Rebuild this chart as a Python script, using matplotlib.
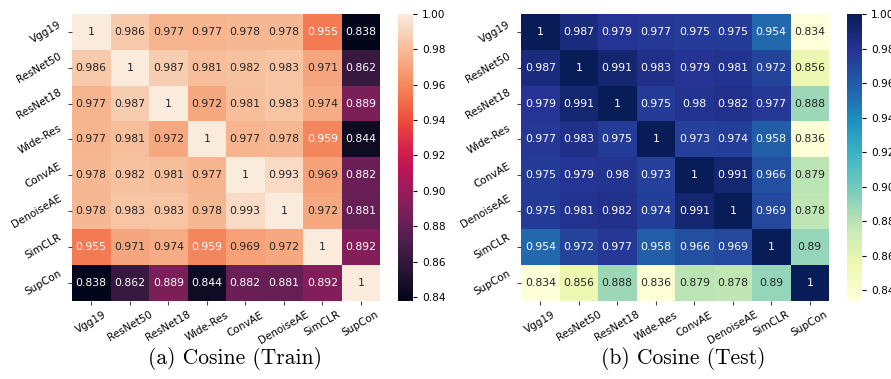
import numpy as np
import matplotlib
matplotlib.use("Agg")
import matplotlib.pyplot as plt
import seaborn as sns

labels = ["Vgg19", "ResNet50", "ResNet18", "Wide-Res", "ConvAE", "DenoiseAE", "SimCLR", "SupCon"]

train = [
    [1, 0.986, 0.977, 0.977, 0.978, 0.978, 0.955, 0.838],
    [0.986, 1, 0.987, 0.981, 0.982, 0.983, 0.971, 0.862],
    [0.977, 0.987, 1, 0.972, 0.981, 0.983, 0.974, 0.889],
    [0.977, 0.981, 0.972, 1, 0.977, 0.978, 0.959, 0.844],
    [0.978, 0.982, 0.981, 0.977, 1, 0.993, 0.969, 0.882],
    [0.978, 0.983, 0.983, 0.978, 0.993, 1, 0.972, 0.881],
    [0.955, 0.971, 0.974, 0.959, 0.969, 0.972, 1, 0.892],
    [0.838, 0.862, 0.889, 0.844, 0.882, 0.881, 0.892, 1],
]

test = [
    [1, 0.987, 0.979, 0.977, 0.975, 0.975, 0.954, 0.834],
    [0.987, 1, 0.991, 0.983, 0.979, 0.981, 0.972, 0.856],
    [0.979, 0.991, 1, 0.975, 0.98, 0.982, 0.977, 0.888],
    [0.977, 0.983, 0.975, 1, 0.973, 0.974, 0.958, 0.836],
    [0.975, 0.979, 0.98, 0.973, 1, 0.991, 0.966, 0.879],
    [0.975, 0.981, 0.982, 0.974, 0.991, 1, 0.969, 0.878],
    [0.954, 0.972, 0.977, 0.958, 0.966, 0.969, 1, 0.89],
    [0.834, 0.856, 0.888, 0.836, 0.879, 0.878, 0.89, 1],
]

captions = ["(a) Cosine (Train)", "(b) Cosine (Test)"]

fig = plt.figure(figsize=(8.91, 3.79), dpi=100)

W, H = 891.0, 379.0
def box(x0, y0, x1, y1):
    return [x0 / W, 1 - y1 / H, (x1 - x0) / W, (y1 - y0) / H]

specs = [
    (train, "rocket", box(72, 14, 380, 300.5), box(398, 14, 413, 300.5), 235),
    (test, "YlGnBu", box(521, 14, 829, 300.5), box(847, 14, 862, 300.5), 683),
]

for (data, cmap, axb, cbb, cx), cap in zip(specs, captions):
    ax = fig.add_axes(axb)
    cax = fig.add_axes(cbb)
    sns.heatmap(np.array(data), annot=True, fmt=".3g", cmap=cmap, ax=ax, cbar_ax=cax,
                xticklabels=labels, yticklabels=labels,
                annot_kws={"fontsize": 7.8})
    ax.set_xticklabels(labels, rotation=30, fontsize=7.5, ha="center")
    ax.set_yticklabels(labels, rotation=30, fontsize=7.5, va="center")
    ax.tick_params(axis="both", length=3, width=0.8, color="#444444")
    cax.tick_params(labelsize=7.6, length=3, width=0.8)
    cax.set_yticks([0.84, 0.86, 0.88, 0.90, 0.92, 0.94, 0.96, 0.98, 1.00])
    cax.set_yticklabels(["0.84", "0.86", "0.88", "0.90", "0.92", "0.94", "0.96", "0.98", "1.00"])
    fig.text(cx / W, 1 - 358 / H, cap, ha="center", va="center", fontsize=15.5,
             family="cmr10")

fig.savefig("out.png", dpi=100)
